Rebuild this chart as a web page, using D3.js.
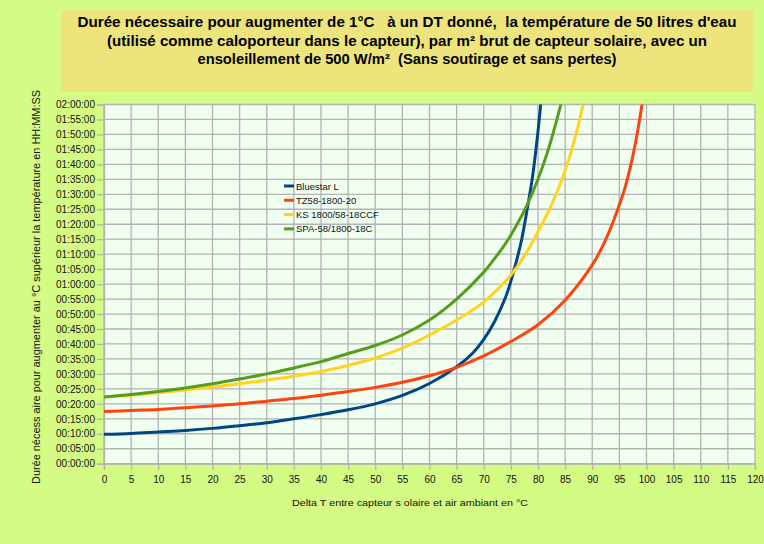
<!DOCTYPE html>
<html>
<head>
<meta charset="utf-8">
<script src="https://cdn.jsdelivr.net/npm/d3@7"></script>
<style>
  html, body { margin: 0; padding: 0; background: #d4fc84; }
  svg { display: block; }
  .title { white-space: pre; }
</style>
</head>
<body>
<div id="chart"></div>
<script>
// Delta T (°C) and durations (minutes)
const blueDT   = [0, 5, 10, 15, 20, 25, 30, 35, 40, 45, 50, 55, 60, 65, 68, 70, 72, 74, 75, 76, 77, 78, 79, 80, 81];
const blueMin  = [9.8, 10.1, 10.6, 11.1, 11.8, 12.7, 13.7, 15, 16.4, 18, 20, 22.8, 26.8, 32.4, 37, 41.5, 47.5, 55.5, 61, 67.5, 75, 85, 96, 111, 130];

const orangeDT  = [0, 5, 10, 15, 20, 25, 30, 35, 40, 45, 50, 55, 60, 65, 70, 75, 80, 85, 90, 92, 94, 95, 96, 97, 98, 99, 100];
const orangeMin = [17.4, 17.8, 18.1, 18.7, 19.3, 20, 20.9, 21.8, 22.9, 24.1, 25.5, 27.2, 29.4, 32.2, 36, 40.8, 46.4, 54.6, 66.4, 73, 81.5, 86.5, 92, 99, 107.5, 118, 130];

const yellowDT  = [0, 5, 10, 15, 20, 25, 30, 35, 40, 45, 50, 55, 60, 65, 70, 72, 75, 78, 80, 82, 84, 85, 86, 87, 88, 89];
const yellowMin = [22.3, 22.9, 23.7, 24.6, 25.6, 26.7, 27.9, 29.2, 30.8, 32.8, 35.3, 38.6, 43, 48, 54, 57.3, 63, 71, 77.5, 84.5, 93, 98, 103.5, 110, 117.5, 126];

const greenDT  = [0, 5, 10, 15, 20, 25, 30, 35, 40, 45, 50, 55, 60, 65, 70, 72, 74, 76, 78, 80, 82, 84, 85];
const greenMin = [22.3, 23.1, 24.1, 25.3, 26.7, 28.3, 30, 32, 34.1, 36.8, 39.5, 43, 48, 55, 64, 68.5, 73.5, 79.5, 86.5, 95, 105.5, 118.5, 126];

const seriesNames  = ["Bluestar L", "TZ58-1800-20", "KS 1800/58-18CCF", "SPA-58/1800-18C"];
const seriesColors = ["#004586", "#ff420e", "#ffd320", "#579d1c"];

const xTicks = d3.range(0, 121, 5);
const yTicks = d3.range(0, 121, 5);

const titleLines = [
  "Durée nécessaire pour augmenter de 1°C   à un DT donné,  la température de 50 litres d'eau",
  "(utilisé comme caloporteur dans le capteur), par m² brut de capteur solaire, avec un",
  "ensoleillement de 500 W/m²  (Sans soutirage et sans pertes)"
];
const xTitle = "Delta T entre capteur s olaire et air ambiant en °C";
const yTitle = "Durée nécess aire pour augmenter au °C supérieur la température en HH:MM:SS";

const width = 764, height = 544;
const plot = { left: 104, right: 755, top: 104.5, bottom: 463.7 };

const svg = d3.select("#chart").append("svg")
  .attr("width", width)
  .attr("height", height);

svg.append("rect").attr("width", width).attr("height", height).attr("fill", "#d4fc84");

// title box
svg.append("rect")
  .attr("x", 61).attr("y", 10).attr("width", 692).attr("height", 82)
  .attr("fill", "#eee47c");

const titleWidths = [659, 600, 419];
svg.append("g").selectAll("text")
  .data(titleLines)
  .join("text")
  .attr("class", "title")
  .attr("x", 407)
  .attr("y", (d, i) => 27 + i * 18.5)
  .attr("text-anchor", "middle")
  .attr("font-family", "Liberation Sans, Arial, sans-serif")
  .attr("font-weight", "bold")
  .attr("font-size", 15)
  .attr("textLength", (d, i) => titleWidths[i])
  .attr("lengthAdjust", "spacingAndGlyphs")
  .attr("fill", "#000")
  .text(d => d);

const x = d3.scaleLinear().domain([0, 120]).range([plot.left, plot.right]);
const y = d3.scaleLinear().domain([0, 120]).range([plot.bottom, plot.top]);

// plot wall
svg.append("rect")
  .attr("x", plot.left).attr("y", plot.top)
  .attr("width", plot.right - plot.left).attr("height", plot.bottom - plot.top)
  .attr("fill", "#f0fff0");

// grid
const grid = svg.append("g").attr("stroke", "#b3b3b3").attr("stroke-width", 1.3);
grid.selectAll("line.v").data(xTicks).join("line")
  .attr("class", "v")
  .attr("x1", d => x(d)).attr("x2", d => x(d))
  .attr("y1", plot.top).attr("y2", plot.bottom);
grid.selectAll("line.h").data(yTicks).join("line")
  .attr("class", "h")
  .attr("x1", plot.left).attr("x2", plot.right)
  .attr("y1", d => y(d)).attr("y2", d => y(d));

const fmt = m => {
  const h = Math.floor(m / 60), mm = m % 60;
  return `${String(h).padStart(2, "0")}:${String(mm).padStart(2, "0")}:00`;
};

const xAxis = svg.append("g")
  .attr("transform", `translate(0,${plot.bottom})`)
  .call(d3.axisBottom(x).tickValues(xTicks).tickSize(6).tickPadding(6));
const yAxis = svg.append("g")
  .attr("transform", `translate(${plot.left},0)`)
  .call(d3.axisLeft(y).tickValues(yTicks).tickSize(7).tickPadding(2).tickFormat(fmt));

[xAxis, yAxis].forEach(a => {
  a.select(".domain").attr("stroke", "#b3b3b3").attr("stroke-width", 1.3);
  a.selectAll(".tick line").attr("stroke", "#b3b3b3").attr("stroke-width", 1.3);
  a.selectAll(".tick text")
    .attr("font-family", "Liberation Sans, Arial, sans-serif")
    .attr("font-size", 10)
    .attr("fill", "#111");
});

// series
const series = [
  { dt: blueDT, min: blueMin },
  { dt: orangeDT, min: orangeMin },
  { dt: yellowDT, min: yellowMin },
  { dt: greenDT, min: greenMin }
].map((s, i) => ({
  name: seriesNames[i],
  color: seriesColors[i],
  values: s.dt.map((d, j) => [d, s.min[j]])
}));

svg.append("clipPath").attr("id", "clip")
  .append("rect")
  .attr("x", plot.left).attr("y", plot.top)
  .attr("width", plot.right - plot.left).attr("height", plot.bottom - plot.top);

const line = d3.line()
  .x(d => x(d[0]))
  .y(d => y(d[1]))
  .curve(d3.curveCatmullRom.alpha(0.5));

svg.append("g").attr("clip-path", "url(#clip)")
  .selectAll("path")
  .data(series)
  .join("path")
  .attr("fill", "none")
  .attr("stroke", d => d.color)
  .attr("stroke-width", 3)
  .attr("stroke-linejoin", "round")
  .attr("d", d => line(d.values));

// legend
const legend = svg.append("g").attr("transform", "translate(284,186)");
const item = legend.selectAll("g").data(series).join("g")
  .attr("transform", (d, i) => `translate(0,${i * 14.3})`);
item.append("line")
  .attr("x1", 0).attr("x2", 10)
  .attr("stroke", d => d.color).attr("stroke-width", 3);
item.append("text")
  .attr("x", 12).attr("y", 3.5)
  .attr("font-family", "Liberation Sans, Arial, sans-serif")
  .attr("font-size", 9.5)
  .attr("fill", "#111")
  .text(d => d.name);

// axis titles
svg.append("text")
  .attr("x", 410).attr("y", 506)
  .attr("text-anchor", "middle")
  .attr("font-family", "Liberation Sans, Arial, sans-serif")
  .attr("font-size", 9.5)
  .attr("textLength", 236)
  .attr("lengthAdjust", "spacingAndGlyphs")
  .attr("fill", "#111")
  .text(xTitle);

svg.append("text")
  .attr("transform", "translate(40,287) rotate(-90)")
  .attr("text-anchor", "middle")
  .attr("font-family", "Liberation Sans, Arial, sans-serif")
  .attr("font-size", 10)
  .attr("textLength", 394)
  .attr("lengthAdjust", "spacingAndGlyphs")
  .attr("fill", "#111")
  .text(yTitle);
</script>
</body>
</html>
